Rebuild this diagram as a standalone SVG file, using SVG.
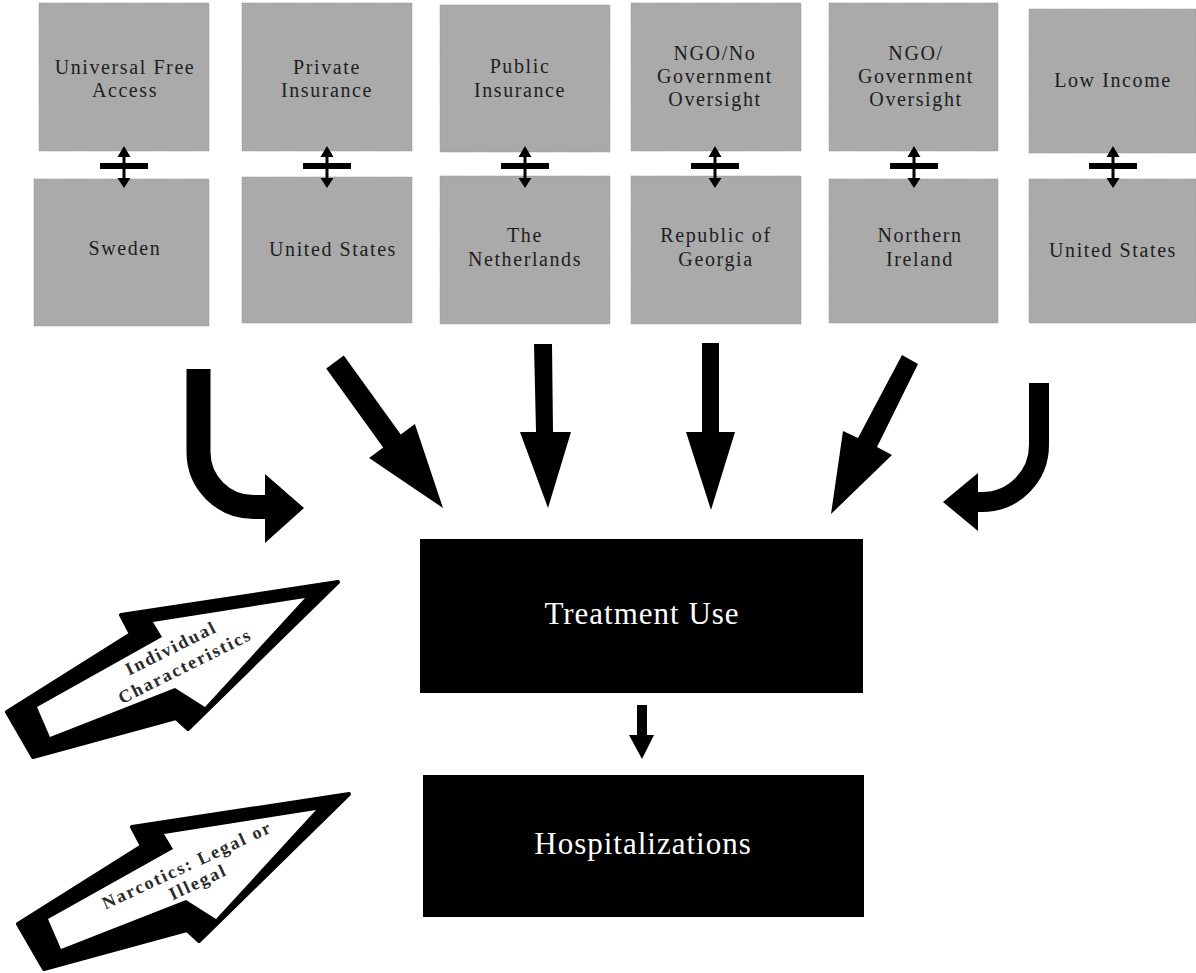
<svg xmlns="http://www.w3.org/2000/svg" xmlns:xlink="http://www.w3.org/1999/xlink" width="1196" height="973" viewBox="0 0 1196 973">
<style>
.box{fill:#aaaaaa;stroke:#9a9a9a;stroke-width:0.8;stroke-dasharray:1.5 1}
.lbl{font-family:"Liberation Serif",serif;font-size:20px;letter-spacing:1.6px;fill:#1e1e1e;text-anchor:middle}
.blk{fill:#000}
.wlbl{font-family:"Liberation Serif",serif;font-size:31px;letter-spacing:1px;fill:#fff;text-anchor:middle}
.ar{fill:#000}
.curve{fill:none;stroke:#000}
.wout{fill:#000;stroke:#000;stroke-width:4;stroke-linejoin:round}
.win{fill:#fff}
.alab{font-family:"Liberation Serif",serif;font-size:18px;font-weight:bold;letter-spacing:2px;fill:#2a2a2a;text-anchor:middle}
</style>
<defs>
<g id="dbl">
<line x1="0" y1="152" x2="0" y2="182" stroke="#000" stroke-width="3"/>
<polygon points="-6.5,157 0,146 6.5,157" fill="#000"/>
<polygon points="-6.5,178 0,188 6.5,178" fill="#000"/>
<line x1="-24" y1="166" x2="24" y2="166" stroke="#000" stroke-width="6"/>
</g>
<g id="warr">
<polygon class="wout" points="7,712 131,634 121,615 338,582 188,729 176,718 33,757"/>
<polygon class="win" points="37,707 162,637 153,622 305,598 205,707 175,688 50,737"/>
</g>
</defs>

<g id="n-universal"><rect class="box" x="39" y="3" width="170" height="148"/><text class="lbl" x="125" y="74">Universal Free</text><text class="lbl" x="125" y="97">Access</text></g>
<g id="n-sweden"><rect class="box" x="34" y="179" width="175" height="147"/><text class="lbl" x="125" y="255">Sweden</text></g>
<g id="n-private"><rect class="box" x="242" y="3" width="170" height="148"/><text class="lbl" x="327" y="74">Private</text><text class="lbl" x="327" y="97">Insurance</text></g>
<g id="n-us1"><rect class="box" x="242" y="177" width="170" height="146"/><text class="lbl" x="333" y="256">United States</text></g>
<g id="n-public"><rect class="box" x="440" y="5" width="170" height="147"/><text class="lbl" x="520" y="73">Public</text><text class="lbl" x="520" y="97">Insurance</text></g>
<g id="n-netherlands"><rect class="box" x="440" y="176" width="170" height="148"/><text class="lbl" x="525" y="242">The</text><text class="lbl" x="525" y="266">Netherlands</text></g>
<g id="n-ngono"><rect class="box" x="631" y="3" width="170" height="148"/><text class="lbl" x="715" y="60">NGO/No</text><text class="lbl" x="715" y="83">Government</text><text class="lbl" x="715" y="106">Oversight</text></g>
<g id="n-georgia"><rect class="box" x="631" y="176" width="170" height="148"/><text class="lbl" x="716" y="242">Republic of</text><text class="lbl" x="716" y="266">Georgia</text></g>
<g id="n-ngogov"><rect class="box" x="829" y="3" width="169" height="148"/><text class="lbl" x="916" y="60">NGO/</text><text class="lbl" x="916" y="83">Government</text><text class="lbl" x="916" y="106">Oversight</text></g>
<g id="n-nireland"><rect class="box" x="829" y="179" width="169" height="144"/><text class="lbl" x="920" y="242">Northern</text><text class="lbl" x="920" y="266">Ireland</text></g>
<g id="n-lowincome"><rect class="box" x="1029" y="9" width="167" height="144"/><text class="lbl" x="1113" y="87">Low Income</text></g>
<g id="n-us2"><rect class="box" x="1029" y="179" width="167" height="144"/><text class="lbl" x="1113" y="257">United States</text></g>

<g id="n-treatment"><rect class="blk" x="420" y="539" width="443" height="154"/><text class="wlbl" x="642" y="624">Treatment Use</text></g>
<g id="n-hosp"><rect class="blk" x="423" y="775" width="441" height="142"/><text class="wlbl" x="643" y="854">Hospitalizations</text></g>

<g id="n-individual">
<use xlink:href="#warr"/>
<text class="alab" transform="translate(171,648) rotate(-26.5)" y="6">Individual</text>
<text class="alab" transform="translate(185,666) rotate(-26.5)" y="6">Characteristics</text>
</g>
<g id="n-narcotics">
<use xlink:href="#warr" transform="translate(11,212)"/>
<text class="alab" transform="translate(187,865) rotate(-25)" y="6">Narcotics: Legal or</text>
<text class="alab" transform="translate(198,882) rotate(-25)" y="6">Illegal</text>
</g>

<g id="connectors">
<use xlink:href="#dbl" transform="translate(124,0)"/>
<use xlink:href="#dbl" transform="translate(327,0)"/>
<use xlink:href="#dbl" transform="translate(525,0)"/>
<use xlink:href="#dbl" transform="translate(715,0)"/>
<use xlink:href="#dbl" transform="translate(914,0)"/>
<use xlink:href="#dbl" transform="translate(1113,0)"/>

<path class="curve" stroke-width="24" d="M198.5,369 V452 A55,55 0 0 0 253.5,507 H267"/>
<polygon class="ar" points="265,474 304,508 265,543"/>
<polygon class="ar" points="343.8,355.5 400.8,434.5 414.9,424 443,508 369.1,458 383.2,447.5 326.2,368.5"/>
<polygon class="ar" points="534,344 552,344 553,432 571,432 548,508 520,432 536,432"/>
<polygon class="ar" points="702,343 719,343 719,432 735,432 711,510 686,432 702,432"/>
<polygon class="ar" points="902,355 918,364 877,447 892,455 831,514 843,431 858,438"/>
<path class="curve" stroke-width="20" d="M1039,383 V445 A57,57 0 0 1 982,502 H976"/>
<polygon class="ar" points="978,473 943,502 978,531"/>

<rect class="ar" x="637" y="705" width="10" height="31"/>
<polygon class="ar" points="629,735 654,735 642,759"/>
</g>
</svg>
